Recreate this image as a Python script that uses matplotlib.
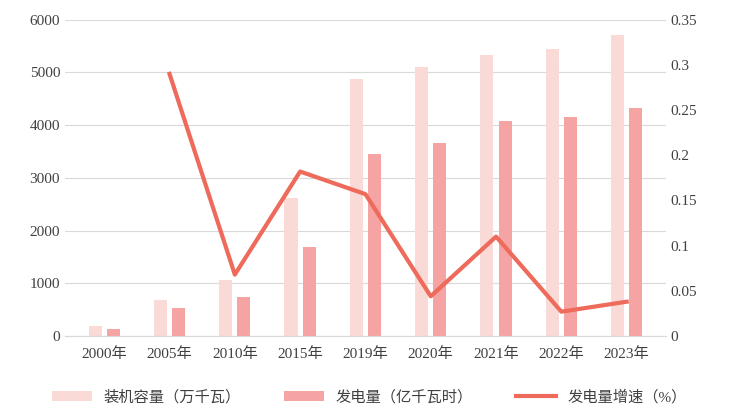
import matplotlib
matplotlib.use("Agg")
import matplotlib.pyplot as plt
import numpy as np

plt.rcParams['font.family'] = ['Liberation Serif', 'Noto Sans CJK SC']

years = ["2000年", "2005年", "2010年", "2015年", "2019年", "2020年", "2021年", "2022年", "2023年"]
capacity = [200, 680, 1070, 2620, 4870, 5100, 5330, 5450, 5700]
generation = [140, 530, 740, 1690, 3450, 3660, 4070, 4160, 4320]
growth_years = years[1:]
growth = [0.29, 0.068, 0.182, 0.157, 0.044, 0.11, 0.027, 0.038]

fig = plt.figure(figsize=(7.39, 4.18), dpi=100)
ax = fig.add_axes([0.088, 0.196, 0.813, 0.757])
ax2 = ax.twinx()

x = np.arange(len(years))
w = 0.2
ax.bar(x - 0.14, capacity, w, color="#FADAD7", label="装机容量（万千瓦）")
ax.bar(x + 0.14, generation, w, color="#F5A3A3", label="发电量（亿千瓦时）")
ax2.plot(x[1:], growth, color="#EE6A5A", lw=3, label="发电量增速（%）")

ax.set_ylim(0, 6000)
ax.set_yticks(range(0, 6001, 1000))
ax2.set_ylim(0, 0.35)
ax2.set_yticks([0, 0.05, 0.1, 0.15, 0.2, 0.25, 0.3, 0.35])
ax2.set_yticklabels(["0", "0.05", "0.1", "0.15", "0.2", "0.25", "0.3", "0.35"])
ax.set_xlim(-0.6, len(years) - 0.4)
ax.set_xticks(x)
ax.set_xticklabels(years)
ax.yaxis.grid(True, color="#D9D9D9", lw=0.8)
ax.set_axisbelow(True)
for a in (ax, ax2):
    for s in ["top", "left", "right"]:
        a.spines[s].set_visible(False)
    a.spines["bottom"].set_color("#D9D9D9")
    a.tick_params(length=0, labelsize=11, colors="#404040")
ax.tick_params(axis='x', pad=8)

h1, l1 = ax.get_legend_handles_labels()
h2, l2 = ax2.get_legend_handles_labels()
fig.legend(h1 + h2, l1 + l2, loc="lower center", ncol=3, frameon=False,
           bbox_to_anchor=(0.5, 0.0), fontsize=11, handlelength=2.6,
           columnspacing=2.8, labelcolor="#404040")

fig.savefig("out.png", dpi=100)
